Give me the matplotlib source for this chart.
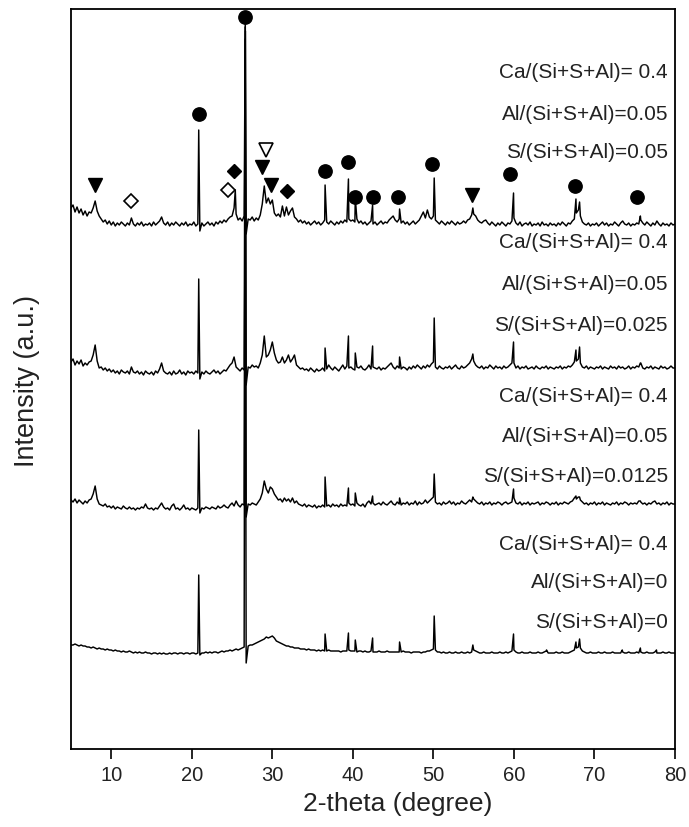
import numpy as np
import matplotlib
matplotlib.use("Agg")
import matplotlib.pyplot as plt

plt.rcParams["font.family"] = ["Liberation Sans", "DejaVu Sans"]

# 2-theta sampling grid (degree)
two_theta = np.arange(5.0, 80.001, 0.25)

# Background + broad features on the grid, per sample (a.u.)
bg_s0 = [
    9, 9, 10, 9, 8, 9, 8, 8, 7, 7, 6, 7, 6, 5, 6, 5, 5, 4, 5, 4,
    4, 3, 4, 3, 3, 2, 3, 2, 2, 3, 2, 1, 2, 1, 2, 1, 1, 2, 1, 1,
    0, 1, 1, 0, 1, 0, 1, 0, 0, 1, 0, 1, 1, 0, 1, 1, 0, 1, 1, 0,
    1, 1, 0, 1, -1, 1, 1, 2, 1, 2, 1, 2, 2, 1, 2, 3, 2, 3, 3, 4,
    3, 4, 5, 4, 5, 6, 7, -9, 8, 9, 9, 10, 11, 12, 13, 14, 15, 17, 16, 17,
    18, 16, 13, 12, 11, 10, 9, 8, 8, 7, 7, 6, 6, 6, 5, 5, 5, 4, 5, 4,
    4, 4, 3, 4, 3, 4, 3, 3, 4, 3, 3, 3, 3, 3, 2, 3, 3, 3, 4, 3,
    3, 3, 2, 3, 3, 2, 3, 2, 2, 3, 2, 2, 2, 3, 2, 2, 2, 3, 2, 2,
    2, 2, 2, 2, 2, 3, 2, 2, 2, 1, 2, 2, 2, 2, 1, 2, 2, 3, 3, 4,
    5, 4, 2, 2, 1, 2, 1, 1, 2, 1, 1, 2, 1, 1, 2, 1, 1, 2, 1, 2,
    4, 3, 2, 1, 1, 2, 1, 1, 1, 2, 1, 1, 1, 2, 1, 1, 2, 1, 2, 3,
    4, 2, 1, 1, 2, 1, 1, 1, 2, 1, 1, 1, 2, 1, 1, 2, 3, 1, 1, 1,
    1, 2, 1, 1, 2, 1, 1, 1, 2, 3, 4, 6, 7, 6, 3, 2, 1, 1, 2, 1,
    1, 1, 2, 1, 1, 2, 1, 1, 1, 2, 1, 1, 1, 1, 2, 1, 1, 2, 1, 1,
    1, 2, 1, 2, 1, 1, 2, 1, 1, 1, 2, 1, 1, 1, 2, 1, 1, 2, 1, 1,
    1,
]
bg_s0125 = [
    11, 9, 12, 8, 11, 9, 7, 10, 8, 11, 12, 17, 25, 12, 7, 6, 5, 7, 4, 5,
    3, 5, 2, 4, 3, 2, 5, 3, 2, 4, 2, 3, 1, 3, 2, 4, 3, 7, 3, 2,
    3, 1, 3, 2, 5, 8, 4, 2, 3, 1, 5, 7, 2, 3, 1, 3, 6, 2, 3, 1,
    3, 2, 1, 3, -2, 3, 2, 4, 3, 2, 4, 3, 2, 5, 3, 4, 6, 4, 3, 6,
    8, 5, 10, 6, 4, 7, 6, -6, 7, 6, 8, 7, 6, 9, 12, 18, 30, 22, 18, 24,
    22, 17, 14, 11, 12, 9, 13, 10, 12, 9, 13, 8, 10, 7, 6, 5, 7, 4, 6, 5,
    4, 6, 3, 5, 4, 6, 4, 5, 6, 4, 7, 5, 6, 4, 7, 5, 6, 5, 8, 6,
    7, 5, 8, 6, 5, 7, 4, 8, 10, 7, 8, 6, 7, 8, 6, 9, 7, 6, 8, 10,
    7, 6, 9, 7, 6, 8, 7, 9, 6, 8, 7, 10, 6, 9, 7, 8, 11, 8, 10, 12,
    14, 9, 7, 8, 6, 9, 7, 8, 10, 7, 9, 6, 8, 7, 10, 8, 7, 9, 11, 9,
    12, 10, 8, 7, 9, 6, 8, 7, 9, 6, 8, 7, 9, 8, 6, 8, 9, 7, 8, 9,
    13, 8, 7, 9, 6, 8, 7, 9, 6, 8, 7, 8, 9, 6, 8, 7, 9, 8, 6, 8,
    7, 9, 6, 8, 7, 9, 8, 7, 9, 10, 13, 12, 14, 11, 9, 7, 8, 6, 8, 7,
    9, 6, 8, 7, 9, 6, 8, 7, 6, 8, 7, 9, 6, 8, 7, 9, 8, 6, 8, 7,
    8, 7, 10, 9, 7, 8, 6, 8, 7, 9, 10, 7, 8, 6, 8, 7, 9, 6, 8, 7,
    7,
]
bg_s025 = [
    15, 18, 12, 16, 13, 17, 11, 14, 12, 15, 16, 22, 32, 16, 9, 10, 7, 9, 6, 8,
    5, 7, 4, 6, 3, 7, 5, 4, 6, 3, 10, 5, 4, 6, 3, 5, 2, 6, 4, 3,
    5, 2, 6, 4, 8, 14, 6, 4, 3, 5, 2, 6, 3, 4, 7, 3, 5, 2, 6, 4,
    5, 3, 6, 4, -2, 5, 3, 6, 4, 3, 5, 7, 4, 6, 3, 5, 7, 6, 9, 12,
    14, 20, 10, 8, 6, 9, 7, -8, 10, 9, 12, 10, 11, 9, 14, 22, 41, 20, 22, 27,
    35, 24, 17, 14, 15, 20, 14, 17, 22, 15, 18, 22, 12, 10, 8, 9, 7, 8, 6, 9,
    7, 5, 8, 6, 7, 9, 6, 8, 12, 9, 7, 10, 8, 6, 9, 12, 8, 11, 9, 10,
    8, 7, 10, 9, 11, 8, 7, 9, 12, 8, 10, 9, 8, 10, 7, 9, 8, 10, 12, 14,
    10, 8, 11, 9, 8, 10, 9, 7, 10, 8, 11, 9, 12, 10, 8, 11, 9, 12, 10, 13,
    15, 10, 8, 11, 9, 8, 10, 9, 11, 8, 10, 12, 9, 8, 11, 9, 10, 12, 14, 18,
    16, 12, 10, 9, 11, 8, 10, 9, 12, 10, 8, 11, 9, 10, 8, 11, 9, 10, 12, 14,
    14, 9, 11, 8, 10, 9, 11, 8, 9, 10, 8, 11, 9, 8, 10, 9, 11, 8, 10, 9,
    8, 10, 9, 11, 8, 10, 9, 11, 10, 12, 15, 16, 18, 14, 10, 9, 11, 8, 10, 9,
    8, 10, 9, 11, 8, 10, 9, 8, 11, 9, 10, 8, 11, 9, 10, 8, 9, 11, 8, 10,
    9, 11, 10, 14, 9, 8, 10, 9, 11, 8, 10, 9, 8, 11, 9, 10, 8, 9, 11, 9,
    9,
]
bg_s05 = [
    20, 23, 16, 21, 15, 19, 13, 17, 12, 16, 15, 20, 27, 17, 12, 9, 6, 8, 4, 7,
    3, 6, 2, 5, 3, 6, 4, 2, 5, 3, 10, 4, 2, 5, 3, 6, 2, 4, 3, 5,
    2, 6, 3, 5, 7, 11, 5, 3, 6, 2, 5, 3, 6, 4, 2, 5, 3, 6, 2, 4,
    3, 6, 2, 4, -3, 5, 2, 4, 6, 3, 5, 2, 6, 4, 7, 5, 8, 6, 9, 11,
    12, 20, 14, 8, 10, 7, 12, -6, 9, 8, 11, 7, 10, 8, 13, 24, 42, 25, 30, 24,
    28, 15, 12, 14, 11, 22, 12, 21, 13, 17, 20, 11, 9, 6, 8, 5, 7, 4, 6, 3,
    5, 7, 4, 6, 3, 5, 8, 6, 4, 7, 5, 3, 6, 4, 7, 5, 8, 6, 9, 7,
    8, 6, 9, 5, 7, 4, 6, 3, 5, 7, 4, 6, 3, 5, 7, 4, 6, 5, 8, 10,
    12, 8, 6, 9, 5, 7, 4, 6, 3, 5, 7, 4, 6, 8, 12, 16, 10, 18, 11, 9,
    12, 8, 6, 4, 7, 5, 3, 6, 4, 7, 5, 3, 6, 4, 5, 7, 5, 8, 9, 13,
    14, 12, 8, 6, 5, 7, 8, 5, 3, 6, 4, 2, 5, 3, 6, 4, 2, 5, 4, 7,
    10, 5, 3, 6, 2, 4, 5, 3, 6, 2, 4, 3, 5, 2, 6, 3, 4, 2, 5, 3,
    4, 2, 5, 3, 6, 4, 2, 5, 4, 7, 9, 15, 18, 12, 6, 4, 3, 5, 2, 4,
    3, 5, 2, 4, 6, 3, 5, 2, 4, 3, 6, 4, 2, 5, 7, 4, 3, 5, 2, 4,
    3, 5, 4, 8, 5, 3, 6, 4, 2, 5, 3, 7, 4, 2, 5, 3, 4, 2, 5, 3,
    4,
]

# Sharp reflections: (2-theta, intensity at apex)
peaks_s0 = [(20.86, 79), (26.62, 615), (36.55, 20), (39.45, 21), (40.30, 14),
            (42.45, 16), (45.80, 12), (50.10, 38), (54.90, 9), (59.95, 20),
            (64.05, 4), (67.70, 12), (68.15, 15), (73.45, 4), (75.70, 6),
            (77.70, 4)]
peaks_s0125 = [(20.86, 81), (26.66, 480), (36.55, 34), (39.45, 23), (40.30, 18),
               (42.45, 15), (45.80, 13), (50.10, 37), (54.90, 14), (59.95, 22),
               (67.70, 15), (68.15, 14), (75.70, 10)]
peaks_s025 = [(20.86, 98), (26.62, 350), (36.55, 29), (39.45, 41), (40.30, 24),
              (42.45, 31), (45.80, 20), (50.10, 59), (54.90, 23), (59.95, 35),
              (67.70, 27), (68.15, 30), (75.70, 14)]
peaks_s05 = [(20.86, 98), (25.40, 38), (26.64, 211), (36.55, 43), (39.45, 49),
             (40.30, 30), (42.45, 23), (45.80, 19), (50.10, 50), (54.90, 20),
             (59.95, 35), (67.70, 29), (68.15, 26), (75.70, 12)]

# Vertical stacking offsets (a.u.)
offsets = [95, 238, 372, 521]

# Phase markers on the S=0.05 pattern: (2-theta, intensity)
quartz_pts = [(26.6, 211), (20.9, 114), (36.5, 57), (39.4, 66), (40.3, 31),
              (42.5, 31), (45.6, 31), (49.8, 64), (59.5, 54), (67.6, 42),
              (75.25, 31)]
tri_filled_pts = [(7.98, 43), (28.7, 61), (29.8, 43), (54.8, 33)]
tri_open_pts = [(29.2, 78)]
dia_open_pts = [(12.45, 27), (24.5, 38)]
dia_filled_pts = [(25.3, 57), (31.8, 37)]

label_sets = [
    ["Ca/(Si+S+Al)= 0.4", "Al/(Si+S+Al)=0", "S/(Si+S+Al)=0"],
    ["Ca/(Si+S+Al)= 0.4", "Al/(Si+S+Al)=0.05", "S/(Si+S+Al)=0.0125"],
    ["Ca/(Si+S+Al)= 0.4", "Al/(Si+S+Al)=0.05", "S/(Si+S+Al)=0.025"],
    ["Ca/(Si+S+Al)= 0.4", "Al/(Si+S+Al)=0.05", "S/(Si+S+Al)=0.05"],
]


def build(bg, peaks, off):
    x = np.concatenate([two_theta, [p[0] for p in peaks]])
    y = np.concatenate([np.asarray(bg, float), [p[1] for p in peaks]])
    order = np.argsort(x, kind="stable")
    return x[order], y[order] + off


W, H = 689, 827
fig = plt.figure(figsize=(W / 100, H / 100), dpi=100)
ax = fig.add_axes([71 / W, 1 - 749 / H, 604 / W, 740 / H])

series = [(bg_s0, peaks_s0), (bg_s0125, peaks_s0125),
          (bg_s025, peaks_s025), (bg_s05, peaks_s05)]
for (bg, pk), off in zip(series, offsets):
    x, y = build(bg, pk, off)
    ax.plot(x, y, color="black", lw=1.05)

top = offsets[3]
mk = dict(linestyle="none", color="black", clip_on=False, zorder=5)
ax.plot([p[0] for p in quartz_pts], [p[1] + top for p in quartz_pts],
        marker="o", markersize=9.6, **mk)
ax.plot([p[0] for p in tri_filled_pts], [p[1] + top for p in tri_filled_pts],
        marker="v", markersize=10.5, **mk)
ax.plot([p[0] for p in tri_open_pts], [p[1] + top for p in tri_open_pts],
        marker="v", markersize=10.5, markerfacecolor="white",
        markeredgewidth=1.2, **mk)
ax.plot([p[0] for p in dia_open_pts], [p[1] + top for p in dia_open_pts],
        marker="D", markersize=7, markerfacecolor="white",
        markeredgewidth=1.2, **mk)
ax.plot([p[0] for p in dia_filled_pts], [p[1] + top for p in dia_filled_pts],
        marker="D", markersize=7, **mk)

# Composition labels, right-aligned inside the frame
label_rows_px = [(545, 583, 622), (396, 437, 476), (243, 285, 326), (73, 114, 153)]
for texts, rows in zip(label_sets, label_rows_px):
    for t, ypx in zip(texts, rows):
        ax.text((668 - 71) / 604, (749 - ypx) / 740, t, transform=ax.transAxes,
                ha="right", va="center", fontsize=15, color="#222222")

ax.set_xlim(5, 80)
ax.set_ylim(0, 740)
ax.set_yticks([])
ax.set_xticks(range(10, 81, 10))
ax.tick_params(axis="x", direction="out", length=7, width=1.2,
               labelsize=14.5, pad=5, colors="black", labelcolor="#222222")
for s in ax.spines.values():
    s.set_linewidth(1.3)

ax.set_xlabel("2-theta (degree)", fontsize=19, color="#222222")
ax.xaxis.set_label_coords((398 - 71) / 604, -(792 - 749) / 740)
ax.set_ylabel("Intensity (a.u.)", fontsize=19.5, color="#222222")
ax.yaxis.set_label_coords(-(71 - 40) / 604, (749 - 381) / 740)

fig.savefig("out.png", dpi=100)
